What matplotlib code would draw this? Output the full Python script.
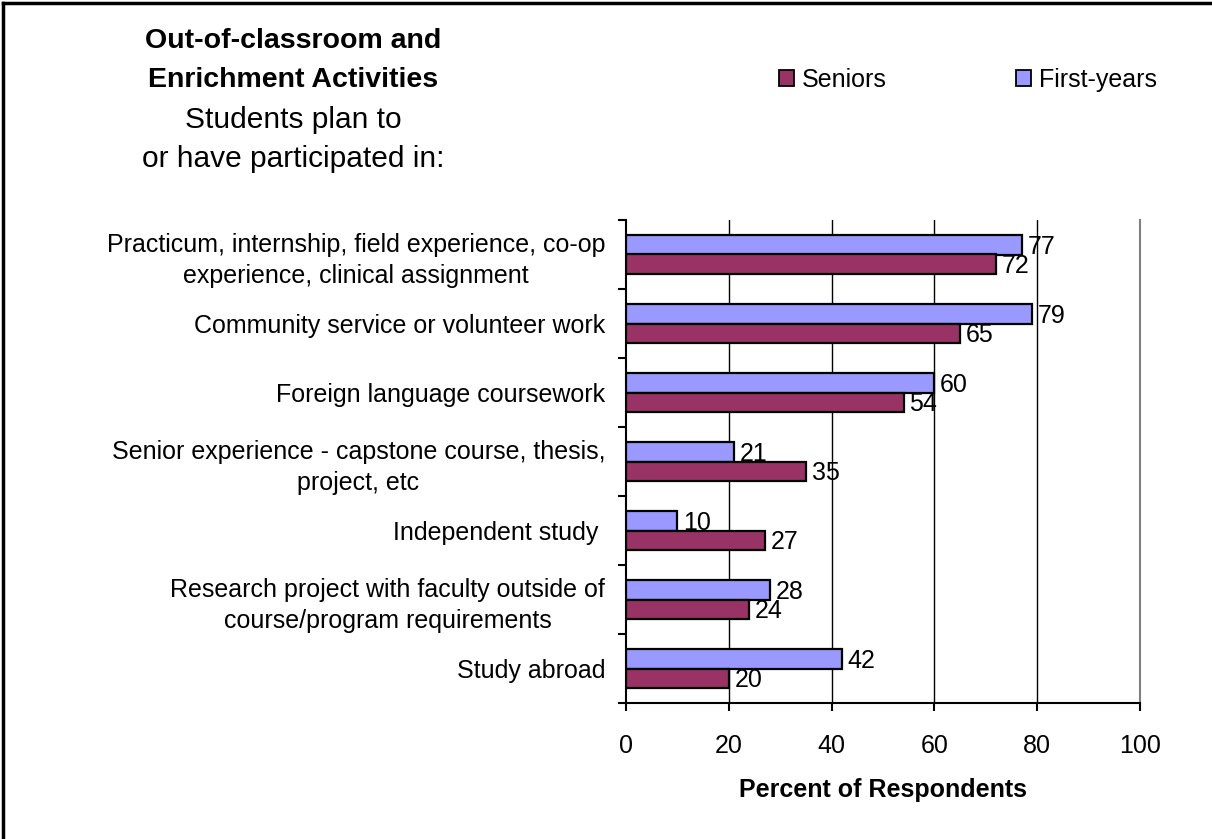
import matplotlib
matplotlib.use("Agg")
import matplotlib.pyplot as plt
from matplotlib.lines import Line2D
from matplotlib.patches import Patch
import numpy as np

plt.rcParams['font.family'] = ['Liberation Sans', 'DejaVu Sans']

# --- DATA ---
categories = [
    "Practicum, internship, field experience, co-op\nexperience, clinical assignment",
    "Community service or volunteer work",
    "Foreign language coursework",
    "Senior experience - capstone course, thesis,\nproject, etc",
    "Independent study ",
    "Research project with faculty outside of\ncourse/program requirements",
    "Study abroad",
]
first_years = [77, 79, 60, 21, 10, 28, 42]
seniors = [72, 65, 54, 35, 27, 24, 20]
x_ticks = [0, 20, 40, 60, 80, 100]

BLUE = '#9999FF'
MAROON = '#993366'
FS = 18

W, H = 1212, 839
fig = plt.figure(figsize=(W / 100, H / 100), dpi=100)
ax = fig.add_axes([626 / W, 1 - 703 / H, (1140 - 626) / W, (703 - 220) / H])

n = len(categories)
ypos = np.arange(n)[::-1]
h = 0.285

ax.barh(ypos + h / 2, first_years, height=h, color=BLUE, edgecolor='black', linewidth=1.6, zorder=3)
ax.barh(ypos - h / 2, seniors, height=h, color=MAROON, edgecolor='black', linewidth=1.6, zorder=3)

# value labels
for y, fy, s in zip(ypos, first_years, seniors):
    ax.text(fy + 1.1, y + h / 2 - 0.03, str(fy), va='center', ha='left', fontsize=FS, zorder=4)
    ax.text(s + 1.1, y - h / 2 - 0.03, str(s), va='center', ha='left', fontsize=FS, zorder=4)

ax.set_xlim(0, 100)
ax.set_ylim(-0.5, n - 0.5)
ax.set_xticks(x_ticks)
ax.set_xticklabels([str(t) for t in x_ticks], fontsize=FS)
ax.tick_params(axis='x', direction='out', length=5.5, width=1.5, pad=17)

ax.set_yticks(ypos)
ax.set_yticklabels(categories, fontsize=FS, multialignment='center', linespacing=1.35)
ax.tick_params(axis='y', which='major', length=0, pad=15)
ax.set_yticks(np.arange(-0.5, n, 1.0), minor=True)
ax.tick_params(axis='y', which='minor', direction='out', length=6, width=1.5)

for gx in x_ticks[1:-1]:
    ax.axvline(gx, color='black', linewidth=1, zorder=1)

ax.spines['top'].set_visible(False)
ax.spines['right'].set_color('#808080')
ax.spines['right'].set_linewidth(1.5)
ax.spines['left'].set_linewidth(1.5)
ax.spines['bottom'].set_linewidth(1.5)

ax.set_xlabel("Percent of Respondents", fontsize=FS, fontweight='bold', labelpad=14)

# title block
tx = 293 / W
fig.text(tx, 1 - 41 / H, "Out-of-classroom and", ha='center', va='center', fontsize=20.5, fontweight='bold')
fig.text(tx, 1 - 80 / H, "Enrichment Activities", ha='center', va='center', fontsize=20.5, fontweight='bold')
fig.text(tx, 1 - 120 / H, "Students plan to", ha='center', va='center', fontsize=21.5)
fig.text(tx, 1 - 159 / H, "or have participated in:", ha='center', va='center', fontsize=21.5)

# legend
handles = [Patch(facecolor=MAROON, edgecolor='black', linewidth=1.3),
           Patch(facecolor=BLUE, edgecolor='black', linewidth=1.3)]
fig.legend(handles, ["Seniors", "First-years"], loc='center', ncol=2,
           bbox_to_anchor=(968 / W, 1 - 80 / H), frameon=False, fontsize=FS,
           handlelength=0.6, handleheight=0.6, handletextpad=0.3, columnspacing=5.2)

# outer border (left and top)
fig.add_artist(Line2D([3 / W, 3 / W], [0, 1 - 3 / H], transform=fig.transFigure, color='black', linewidth=2.5))
fig.add_artist(Line2D([3 / W, 1], [1 - 3 / H, 1 - 3 / H], transform=fig.transFigure, color='black', linewidth=2.5))

fig.savefig("out.png", dpi=100, facecolor='white')
